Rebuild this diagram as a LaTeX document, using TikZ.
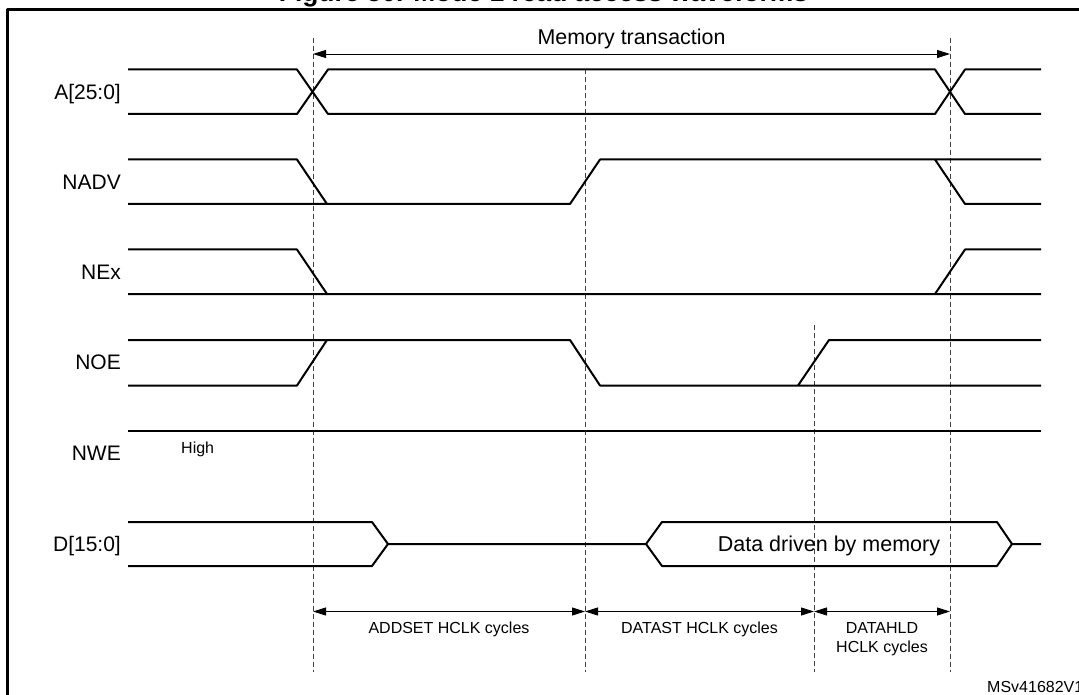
\documentclass[tikz,border=0pt]{standalone}
\usepackage{fontspec}
\setmainfont{Liberation Sans}
\usetikzlibrary{arrows.meta}
\begin{document}
\begin{tikzpicture}[x=1pt,y=-1pt,>={Triangle[length=13pt,width=8pt]},line join=round,
	sig/.style={line width=2pt},
	tick/.style={dash pattern=on 5pt off 3pt,line width=1pt,black!75},
	dim/.style={<->,line width=.9pt,black},
	lbl/.style={anchor=base east,inner sep=0pt,font=\fontsize{21}{25}\selectfont},
	note/.style={inner sep=0pt,font=\fontsize{16}{19.7}\selectfont}]
	\clip (0,0) rectangle (1079,695);
	\draw[line width=2.4pt] (7.6,720)--(7.6,9.6)--(1100,9.6);
	\node[anchor=base,inner sep=0pt,font=\fontsize{26.4}{30}\selectfont\bfseries] (title) at (543.5,1.5) {Figure 50. Mode 1 read access waveforms};
	
	\coordinate (t0) at (313,38); \coordinate (t1) at (585,69.5);
	\coordinate (t2) at (814,325); \coordinate (t3) at (950,38);
	\coordinate (bot) at (0,672); \coordinate (mt) at (0,54); \coordinate (cy) at (0,611.5);
	\foreach \t in {t0,t1,t2,t3} \draw[tick] (\t)--(\t|-bot);
	
	\draw[dim] (t0|-mt)--(t3|-mt);
	\node[anchor=base,inner sep=0pt,font=\fontsize{21.4}{25}\selectfont] (memtr) at (631.5,45) {Memory transaction};
	
	\node[lbl] (lA) at (121,99.5) {A[25:0]};
	\node[lbl] (lNADV) at (121,189.5) {NADV};
	\node[lbl] (lNEx) at (121,279.5) {NEx};
	\node[lbl] (lNOE) at (121,369.5) {NOE};
	\node[lbl] (lNWE) at (121,460) {NWE};
	\node[lbl] (lD) at (121,551.7) {D[15:0]};
	\node[note,anchor=base west] (high) at (181,453.5) {High};
	
	\draw[sig] (128,69.5)--(297,69.5)--(328,114)--(935,114)--(965,69.5)--(1041,69.5)
	(128,114)--(297,114)--(328,69.5)--(935,69.5)--(965,114)--(1041,114);
	\draw[sig] (128,159.5)--(297,159.5)--(327,204) (128,204)--(570,204)--(600,159.5)--(1041,159.5)
	(935,159.5)--(965,204)--(1041,204);
	\draw[sig] (128,249.5)--(297,249.5)--(327,294) (128,294)--(1041,294)
	(935,294)--(965,249.5)--(1041,249.5);
	\draw[sig] (128,385.5)--(297,385.5)--(327,340) (128,340)--(570,340)--(600,385.5)--(1041,385.5)
	(798,385.5)--(829,340)--(1041,340);
	\draw[sig] (128,431)--(1041,431);
	\draw[sig] (128,522)--(372,522)--(388,544)--(372,566)--(128,566)
	(388,544)--(646,544) (1012,544)--(1041,544)
	(646,544)--(662,522)--(997,522)--(1012,544)--(997,566)--(662,566)--cycle;
	\node[anchor=base,inner sep=0pt,font=\fontsize{21.5}{25}\selectfont] (data) at (829,551.7) {Data driven by memory};
	
	\draw[dim] (t0|-cy)--(t1|-cy);
	\draw[dim] (t1|-cy)--(t2|-cy);
	\draw[dim] (t2|-cy)--(t3|-cy);
	\node[note,anchor=base] (addset) at (449,633.5) {ADDSET HCLK cycles};
	\node[note,anchor=base] (datast) at (699.5,633.5) {DATAST HCLK cycles};
	\node[note,anchor=north,align=center] (datahld) at (882,622) {DATAHLD\\HCLK cycles};
	\node[note,anchor=base west] (ref) at (987,692) {MSv41682V1};
\end{tikzpicture}
\end{document}
